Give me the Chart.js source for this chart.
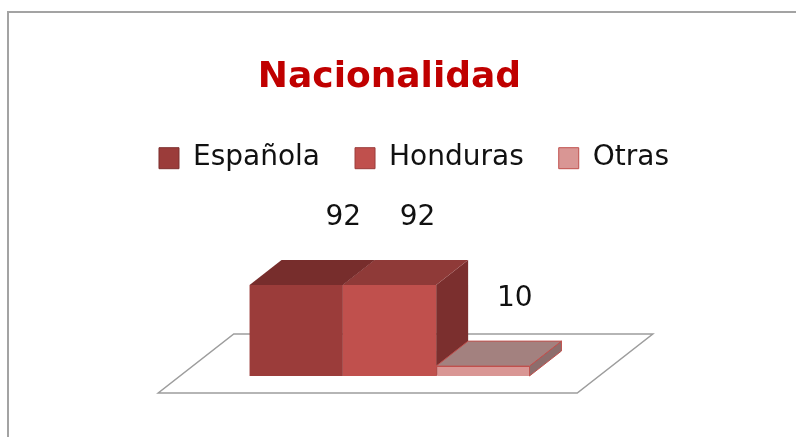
<!DOCTYPE html>
<html>
<head>
<meta charset="utf-8">
<script src="https://cdn.jsdelivr.net/npm/chart.js@4/dist/chart.umd.min.js"></script>
<style>
  html, body { margin: 0; padding: 0; background: #ffffff; }
  canvas { display: block; }
</style>
</head>
<body>
<canvas id="c" width="796" height="437"></canvas>
<script>
// ---- data ----
const categories = ['Nacionalidad'];
const seriesNames = ['Española', 'Honduras', 'Otras'];
const espanola = [92];
const honduras = [92];
const otras = [10];
const seriesValues = [espanola, honduras, otras];

// ---- styles ----
const frontColors = ['#9B3C3A', '#C0504D', '#D99694'];
const topColors   = ['#772D2C', '#8F3A38', '#A3817F'];
const sideColors  = ['#6E2928', '#7B2F2E', '#8D6D6C'];
const edgeColors  = ['#9B3C3A', '#C0504D', '#C0504D'];
const edgeWidths  = [0, 0, 1];
const legendStrokes = ['#7E302F', '#9B3C3A', '#C0504D'];
const labelShift = [15, -4, 0];

const DX = 32, DY = 25, FLOOR = 17, LABEL_GAP = 42;

function poly(ctx, pts, fill, stroke, lw) {
  ctx.beginPath();
  ctx.moveTo(pts[0][0], pts[0][1]);
  for (let i = 1; i < pts.length; i++) ctx.lineTo(pts[i][0], pts[i][1]);
  ctx.closePath();
  if (fill) { ctx.fillStyle = fill; ctx.fill(); }
  if (stroke) { ctx.strokeStyle = stroke; ctx.lineWidth = lw || 1; ctx.stroke(); }
}

const bar3d = {
  id: 'bar3d',
  beforeDraw(chart) {
    const ctx = chart.ctx;
    ctx.save();
    ctx.strokeStyle = '#a3a3a3';
    ctx.lineWidth = 2;
    ctx.beginPath();
    ctx.moveTo(8, chart.height);
    ctx.lineTo(8, 12);
    ctx.lineTo(chart.width, 12);
    ctx.stroke();
    ctx.restore();
  },
  beforeDatasetsDraw(chart) {
    const ctx = chart.ctx;
    const a = chart.chartArea;
    const yb = chart.scales.y.getPixelForValue(0);
    const k = DX / DY;
    ctx.save();
    // floor
    poly(ctx, [
      [a.left - FLOOR * k, yb + FLOOR],
      [a.right - FLOOR * k, yb + FLOOR],
      [a.right + DX + FLOOR * k, yb - DY - FLOOR],
      [a.left + DX + FLOOR * k, yb - DY - FLOOR]
    ], '#ffffff', '#9d9d9d', 1.5);
    // 3D side + top faces
    chart.data.datasets.forEach((ds, i) => {
      const meta = chart.getDatasetMeta(i);
      meta.data.forEach(bar => {
        const p = bar.getProps(['x', 'y', 'base', 'width'], true);
        const l = p.x - p.width / 2, r = p.x + p.width / 2;
        poly(ctx, [[r, p.y], [r + DX, p.y - DY], [r + DX, p.base - DY], [r, p.base]], sideColors[i],
             edgeWidths[i] ? edgeColors[i] : null, edgeWidths[i]);
        poly(ctx, [[l, p.y], [r, p.y], [r + DX, p.y - DY], [l + DX, p.y - DY]], topColors[i],
             edgeWidths[i] ? edgeColors[i] : null, edgeWidths[i]);
      });
    });
    ctx.restore();
  },
  afterDatasetsDraw(chart) {
    const ctx = chart.ctx;
    ctx.save();
    ctx.font = '28px "DejaVu Sans"';
    ctx.fillStyle = '#111111';
    ctx.textAlign = 'center';
    ctx.textBaseline = 'middle';
    chart.data.datasets.forEach((ds, i) => {
      const meta = chart.getDatasetMeta(i);
      meta.data.forEach((bar, j) => {
        const p = bar.getProps(['x', 'y'], true);
        ctx.fillText(String(ds.data[j]), p.x + DX + labelShift[i], p.y - DY - LABEL_GAP);
      });
    });
    ctx.restore();
  }
};

const datasets = seriesNames.map((name, i) => ({
  label: name,
  data: seriesValues[i],
  backgroundColor: frontColors[i],
  borderColor: edgeColors[i],
  borderWidth: edgeWidths[i],
  categoryPercentage: 0.668,
  barPercentage: 1.0
}));

new Chart(document.getElementById('c'), {
  type: 'bar',
  data: { labels: categories, datasets },
  plugins: [bar3d],
  options: {
    responsive: false,
    devicePixelRatio: 1,
    animation: false,
    layout: { padding: { left: 32, right: 0, top: 0, bottom: 61 } },
    plugins: {
      tooltip: { enabled: false },
      title: {
        display: true,
        text: 'Nacionalidad',
        color: '#C00000',
        fullSize: false,
        font: { family: 'DejaVu Sans', size: 36, weight: 'bold' },
        padding: { top: 56, bottom: 10 }
      },
      legend: {
        display: true,
        position: 'top',
        fullSize: true,
        labels: {
          color: '#111111',
          font: { family: 'DejaVu Sans', size: 28 },
          boxWidth: 20,
          boxHeight: 21,
          padding: 35,
          generateLabels(chart) {
            const items = Chart.defaults.plugins.legend.labels.generateLabels(chart);
            items.forEach((it, i) => { it.strokeStyle = legendStrokes[i]; it.lineWidth = 1; });
            return items;
          }
        }
      }
    },
    scales: {
      x: { display: false },
      y: {
        display: true,
        position: 'left',
        min: 0,
        max: 196,
        grid: { display: false },
        border: { display: false },
        ticks: { display: false },
        afterFit(s) { s.width = 148; }
      },
      y2: {
        display: true,
        position: 'right',
        grid: { display: false },
        border: { display: false },
        ticks: { display: false },
        afterFit(s) { s.width = 197; }
      }
    }
  }
});
</script>
</body>
</html>
